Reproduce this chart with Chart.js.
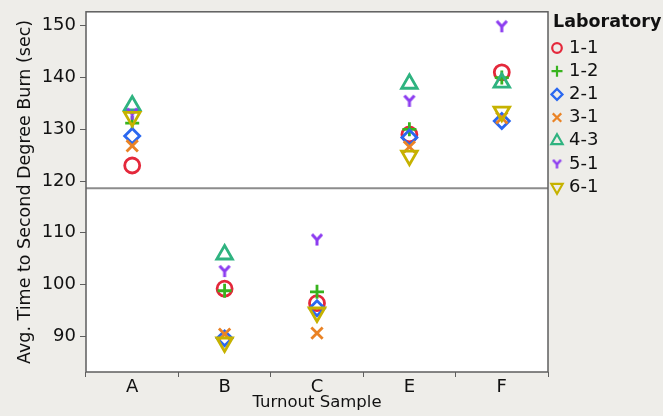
<!DOCTYPE html>
<html>
<head>
<meta charset="utf-8">
<script src="https://cdn.jsdelivr.net/npm/chart.js@4.4.0/dist/chart.umd.min.js"></script>
<style>
  html, body { margin: 0; padding: 0; background: #eeede9; }
  #wrap { width: 663px; height: 416px; }
</style>
</head>
<body>
<div id="wrap"><canvas id="js-chart-burn" width="663" height="416"></canvas></div>
<script>
// turnout samples on the x axis, one series per laboratory
const samples = ["A", "B", "C", "E", "F"];
const labNames = ["1-1", "1-2", "2-1", "3-1", "4-3", "5-1", "6-1"];

const lab11 = [123.0, 99.2, 96.4, 129.0, 141.0];
const lab12 = [131.2, 98.8, 98.6, 130.0, 140.0];
const lab21 = [128.7, 89.6, 95.4, 128.4, 131.6];
const lab31 = [126.8, 90.4, 90.6, 126.6, 132.2];
const lab43 = [134.6, 105.8, null, 138.8, 139.0];
const lab51 = [133.0, 102.6, 108.7, 135.5, 149.9];
const lab61 = [132.4, 88.8, 94.6, 124.9, 133.4];

const yTickValues = [90, 100, 110, 120, 130, 140, 150];
const centerLine = 118.6;

const FONT = "'DejaVu Sans', Verdana, sans-serif";

// purple "Y" marker, drawn once on a tiny canvas
function yMarker(size, color, lw) {
    const c = document.createElement("canvas");
    c.width = size;
    c.height = size;
    const g = c.getContext("2d");
    const m = size / 2;
    g.strokeStyle = color;
    g.lineWidth = lw;
    g.beginPath();
    g.moveTo(m - m * 0.72, m * 0.25);
    g.lineTo(m, m * 1.05);
    g.lineTo(m + m * 0.72, m * 0.25);
    g.moveTo(m, m * 1.05);
    g.lineTo(m, size - 1);
    g.stroke();
    return c;
}

const markers = [
    { style: "circle", color: "#e4283b", r: 7.5, lr: 4.8, rot: 0 },
    { style: "cross", color: "#38b31e", r: 7, lr: 5.5, rot: 0 },
    { style: "rectRot", color: "#2a68f0", r: 7.5, lr: 5.5, rot: 0 },
    { style: "crossRot", color: "#ea8325", r: 8, lr: 6, rot: 0 },
    { style: "triangle", color: "#2fb380", r: 9, lr: 6.5, rot: 0 },
    { style: yMarker(14, "#8c3cf0", 3), legend: yMarker(11, "#8c3cf0", 2.4), color: "#8c3cf0", r: 7, rot: 0 },
    { style: "triangle", color: "#c6b200", r: 9, lr: 6.5, rot: 180 },
];

const series = [lab11, lab12, lab21, lab31, lab43, lab51, lab61];

const datasets = series.map((vals, i) => ({
    label: labNames[i],
    data: vals,
    showLine: false,
    order: series.length - i,
    pointStyle: markers[i].style,
    pointRotation: markers[i].rot,
    pointRadius: markers[i].r,
    pointBorderWidth: 2.8,
    pointBorderColor: markers[i].color,
    pointBackgroundColor: "rgba(0,0,0,0)",
    borderColor: markers[i].color,
}));

const backdrop = {
    id: "backdrop",
    beforeDraw(chart) {
        const { ctx, chartArea: a } = chart;
        ctx.save();
        ctx.fillStyle = "#eeede9";
        ctx.fillRect(0, 0, chart.width, chart.height);
        ctx.fillStyle = "#ffffff";
        ctx.fillRect(a.left, a.top, a.right - a.left, a.bottom - a.top);
        ctx.restore();
    },
    beforeDatasetsDraw(chart) {
        const { ctx, chartArea: a } = chart;
        const y = chart.scales.y.getPixelForValue(centerLine);
        ctx.save();
        ctx.strokeStyle = "#8c8c8c";
        ctx.lineWidth = 2;
        ctx.beginPath();
        ctx.moveTo(a.left, y);
        ctx.lineTo(a.right, y);
        ctx.stroke();
        ctx.restore();
    },
    afterDraw(chart) {
        const { ctx, chartArea: a } = chart;
        ctx.save();
        ctx.strokeStyle = "#5e5e5e";
        ctx.lineWidth = 1.5;
        ctx.strokeRect(a.left, a.top, a.right - a.left, a.bottom - a.top);

        // legend
        const x0 = a.right + 5;
        ctx.fillStyle = "#111";
        ctx.textBaseline = "middle";
        ctx.textAlign = "left";
        ctx.font = "bold 17.5px " + FONT;
        ctx.fillText("Laboratory", x0, 22);
        ctx.font = "18px " + FONT;
        labNames.forEach((name, i) => {
            const m = markers[i];
            const cy = 48 + i * 23.2;
            ctx.strokeStyle = m.color;
            ctx.fillStyle = "rgba(0,0,0,0)";
            ctx.lineWidth = 2.2;
            Chart.helpers.drawPoint(ctx, {
                pointStyle: m.legend || m.style,
                rotation: m.rot,
                radius: m.lr || 5,
                borderWidth: 2.2,
            }, x0 + 4, cy);
            ctx.fillStyle = "#111";
            ctx.fillText(name, x0 + 16, cy);
        });
        ctx.restore();
    },
};

new Chart(document.getElementById("js-chart-burn"), {
    type: "line",
    data: { labels: samples, datasets: datasets },
    options: {
        responsive: false,
        animation: false,
        events: [],
        layout: { padding: { top: 10, right: 115, left: 0, bottom: 0 } },
        plugins: { legend: { display: false }, tooltip: { enabled: false } },
        scales: {
            x: {
                type: "category",
                offset: true,
                afterFit: (s) => { s.height = 44; s.paddingLeft = 0; s.paddingRight = 0; },
                grid: { offset: true, drawOnChartArea: false, drawTicks: true, tickLength: 5, color: "#5e5e5e", lineWidth: 1 },
                border: { display: false },
                ticks: { color: "#111", padding: 0, font: { family: FONT, size: 18 } },
                title: { display: true, text: "Turnout Sample", color: "#111", padding: { top: 0, bottom: 3 }, font: { family: FONT, size: 16.5 } },
            },
            y: {
                min: 83.1,
                max: 152.7,
                afterFit: (s) => { s.width = 86; s.paddingTop = 0; s.paddingBottom = 0; },
                afterBuildTicks: (s) => { s.ticks = yTickValues.map((v) => ({ value: v })); },
                grid: { drawOnChartArea: false, drawTicks: true, tickLength: 6, color: "#5e5e5e", lineWidth: 1 },
                border: { display: false },
                ticks: { color: "#111", padding: 4, font: { family: FONT, size: 18 } },
                title: { display: true, text: "Avg. Time to Second Degree Burn (sec)", color: "#111", padding: { top: 15, bottom: 0 }, font: { family: FONT, size: 17.5 } },
            },
        },
    },
    plugins: [backdrop],
});
</script>
</body>
</html>
